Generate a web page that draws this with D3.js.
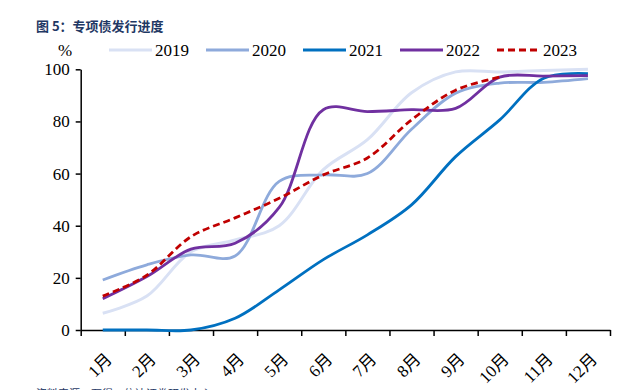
<!DOCTYPE html>
<html>
<head>
<meta charset="utf-8">
<script src="https://cdn.jsdelivr.net/npm/d3@7"></script>
<style>
  body { margin: 0; background: #fff; }
  svg { display: block; }
</style>
</head>
<body>
<div id="chart"></div>
<script>
// month categories and cumulative issuance progress (%)
const months = ["1月", "2月", "3月", "4月", "5月", "6月", "7月", "8月", "9月", "10月", "11月", "12月"];
const years = ["2019", "2020", "2021", "2022", "2023"];
const v2019 = [6.4, 13, 30, 34.5, 40, 61.5, 73, 91, 99, 99, 99.5, 100];
const v2020 = [19.2, 25, 28.8, 28.4, 57, 59.5, 60, 77, 90.8, 94.7, 95, 96.4];
const v2021 = [0, 0, 0, 4.5, 15.4, 27, 36.5, 48, 66.5, 80.6, 96.6, 98.3];
const v2022 = [12, 20.5, 31, 33.3, 47, 84.5, 83.8, 84.5, 85, 97, 97.4, 97.6];
const v2023 = [13, 21, 35.8, 43, 50.5, 59.5, 66, 80.6, 92, 97];
const yTicks = [0, 20, 40, 60, 80, 100];

const colors = ["#d9e1f4", "#8eaadb", "#0070c0", "#7030a0", "#c00000"];
const seriesVals = [v2019, v2020, v2021, v2022, v2023];

const width = 622, height = 390;
const margin = { top: 69.3, right: 12, bottom: 60, left: 80.7 };

const svg = d3.select("#chart")
  .append("svg")
  .attr("width", width)
  .attr("height", height);

// title
svg.append("text")
  .attr("x", 36)
  .attr("y", 31)
  .attr("fill", "#1f3864")
  .attr("font-family", "Noto Sans CJK SC")
  .attr("font-weight", "bold")
  .attr("font-size", "13px")
  .text("图 5：专项债发行进度");

// scales
const x = d3.scaleBand()
  .domain(months)
  .range([margin.left, width - margin.right])
  .padding(0);
const xEdge = d3.scaleLinear()
  .domain([0, months.length])
  .range([margin.left, width - margin.right]);
const y = d3.scaleLinear()
  .domain([0, 100])
  .range([height - margin.bottom, margin.top]);

// y axis
svg.append("g")
  .attr("transform", `translate(${margin.left},0)`)
  .call(d3.axisLeft(y).tickValues(yTicks).tickSize(5).tickPadding(6).tickSizeOuter(0))
  .call(g => g.select(".domain").attr("stroke", "#000").attr("stroke-width", 1.5))
  .call(g => g.selectAll(".tick line").attr("stroke", "#000").attr("stroke-width", 1.5))
  .call(g => g.selectAll(".tick text")
    .attr("font-family", "Liberation Serif")
    .attr("font-size", "17px")
    .attr("fill", "#000"));

// x axis: ticks between months
svg.append("g")
  .attr("transform", `translate(0,${height - margin.bottom})`)
  .call(d3.axisBottom(xEdge).tickValues(d3.range(0, months.length + 1)).tickSize(6).tickFormat("").tickSizeOuter(0))
  .call(g => g.select(".domain").attr("stroke", "#000").attr("stroke-width", 1.5))
  .call(g => g.selectAll(".tick line").attr("stroke", "#000").attr("stroke-width", 1.5));

// month labels, rotated
svg.append("g")
  .selectAll("text")
  .data(months)
  .join("text")
  .attr("transform", d => `translate(${x(d) + x.bandwidth() / 2 + 6},${height - margin.bottom + 26}) rotate(-45)`)
  .attr("text-anchor", "end")
  .attr("dy", "0.35em")
  .attr("font-family", "Liberation Serif, Noto Sans CJK SC")
  .attr("font-size", "17px")
  .attr("fill", "#000")
  .text(d => d);

// lines
const line = d3.line()
  .x((d, i) => x(months[i]) + x.bandwidth() / 2)
  .y(d => y(d))
  .curve(d3.curveCatmullRom.alpha(0.5));

seriesVals.forEach((vals, k) => {
  svg.append("path")
    .datum(vals)
    .attr("d", line)
    .attr("fill", "none")
    .attr("stroke", colors[k])
    .attr("stroke-width", k === 0 ? 3 : 2.8)
    .attr("stroke-dasharray", k === 4 ? "7,4" : null)
    .attr("stroke-linecap", "butt");
});

// legend
svg.append("text")
  .attr("x", 58)
  .attr("y", 56)
  .attr("font-family", "Liberation Serif")
  .attr("font-size", "17px")
  .text("%");

const legendX = [109, 206, 303, 400, 497];
const legend = svg.append("g")
  .selectAll("g")
  .data(years)
  .join("g")
  .attr("transform", (d, i) => `translate(${legendX[i]},50)`);
legend.append("line")
  .attr("x1", 0).attr("x2", 43)
  .attr("stroke", (d, i) => colors[i])
  .attr("stroke-width", 3)
  .attr("stroke-dasharray", (d, i) => i === 4 ? "7,4" : null);
legend.append("text")
  .attr("x", 46)
  .attr("dy", "0.35em")
  .attr("font-family", "Liberation Serif")
  .attr("font-size", "17px")
  .text(d => d);

// source note (cut at bottom edge, as in the reference)
svg.append("text")
  .attr("x", 36)
  .attr("y", 398)
  .attr("font-family", "Noto Sans CJK SC")
  .attr("font-size", "11px")
  .attr("fill", "#1f3864")
  .text("资料来源：万得，信达证券研发中心");
</script>
</body>
</html>
